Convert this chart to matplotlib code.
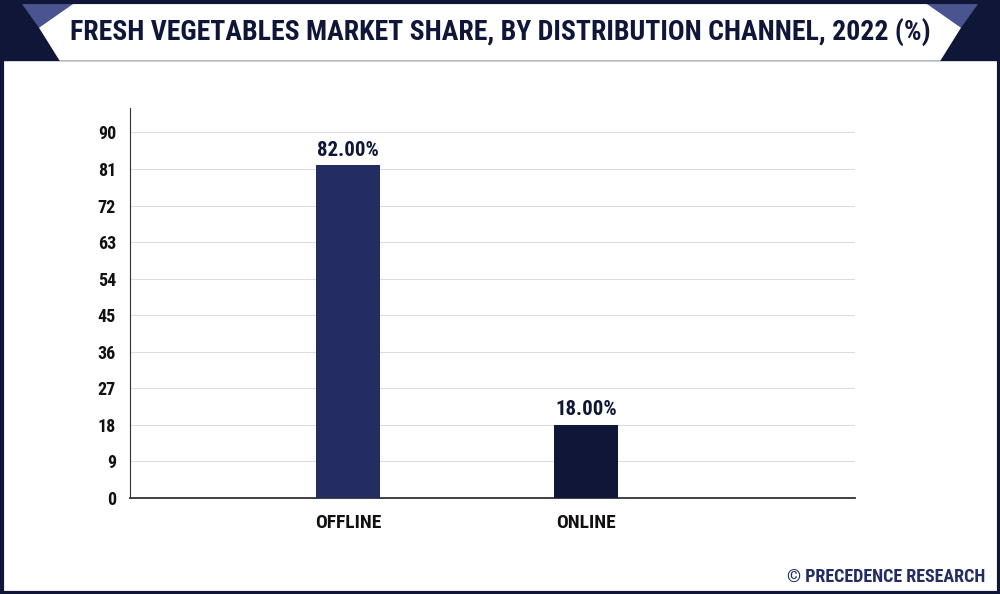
import matplotlib.pyplot as plt
from matplotlib.patches import Polygon, Rectangle
from matplotlib import font_manager

channels = ["OFFLINE", "ONLINE"]
shares = [82.0, 18.0]
bar_colors = ["#232d63", "#0f1638"]
yticks = [0, 9, 18, 27, 36, 45, 54, 63, 72, 81, 90]

names = {f.name for f in font_manager.fontManager.ttflist}
font = "DejaVu Sans"
for cand in ["Roboto Condensed", "Liberation Sans Narrow", "DejaVu Sans Condensed", "Roboto"]:
    if cand in names:
        font = cand
        break
plt.rcParams["font.family"] = font
plt.rcParams["font.stretch"] = "condensed"

W, H = 1000, 594
fig = plt.figure(figsize=(10, 5.94), dpi=100)

# frame and header drawn in pixel coordinates
bg = fig.add_axes([0, 0, 1, 1])
bg.set_xlim(0, W)
bg.set_ylim(H, 0)
bg.axis("off")
navy = "#0f1638"
bg.add_patch(Rectangle((0, 0), W, 60, color=navy))
bg.add_patch(Polygon([(20, 0), (80, 0), (40, 28)], color="#4a5590"))
bg.add_patch(Polygon([(980, 0), (920, 0), (960, 28)], color="#4a5590"))
bg.add_patch(Polygon([(80, 0), (920, 0), (960, 28), (940, 60), (60, 60), (40, 28)],
                     color="white"))
bg.add_patch(Rectangle((1.5, 1.5), W - 3, H - 3, fill=False, ec=navy, lw=3))
bg.text(500, 32, "FRESH VEGETABLES MARKET SHARE, BY DISTRIBUTION CHANNEL, 2022 (%)",
        ha="center", va="center", fontsize=20, fontweight="bold", color=navy)
bg.text(985, 577, "© PRECEDENCE RESEARCH", ha="right", va="center",
        fontsize=13, fontweight="bold", color="#232d63")

ax = fig.add_axes([0.130, 0.162, 0.725, 0.656])
x = range(len(channels))
bars = ax.bar(x, shares, width=0.27, color=bar_colors, zorder=3)
for b, v in zip(bars, shares):
    ax.text(b.get_x() + b.get_width() / 2, v + 1.3, f"{v:.2f}%", ha="center",
            va="bottom", fontsize=15, fontweight="bold", color=navy)
ax.set_xlim(-0.916, 2.13)
ax.set_ylim(0, 96)
ax.set_yticks(yticks)
ax.set_xticks(list(x))
ax.set_xticklabels(channels)
ax.tick_params(axis="both", length=0, labelsize=13, colors="#111111")
ax.tick_params(axis="y", pad=10)
ax.tick_params(axis="x", pad=12, labelsize=14)
for lbl in ax.get_xticklabels() + ax.get_yticklabels():
    lbl.set_fontweight("bold")
ax.grid(axis="y", color="#dddddd", lw=0.8, zorder=0)
for s in ["top", "right"]:
    ax.spines[s].set_visible(False)
ax.spines["left"].set_color("#333333")
ax.spines["bottom"].set_color("#333333")
ax.spines["bottom"].set_linewidth(1.3)

fig.savefig("out.png", dpi=100)
